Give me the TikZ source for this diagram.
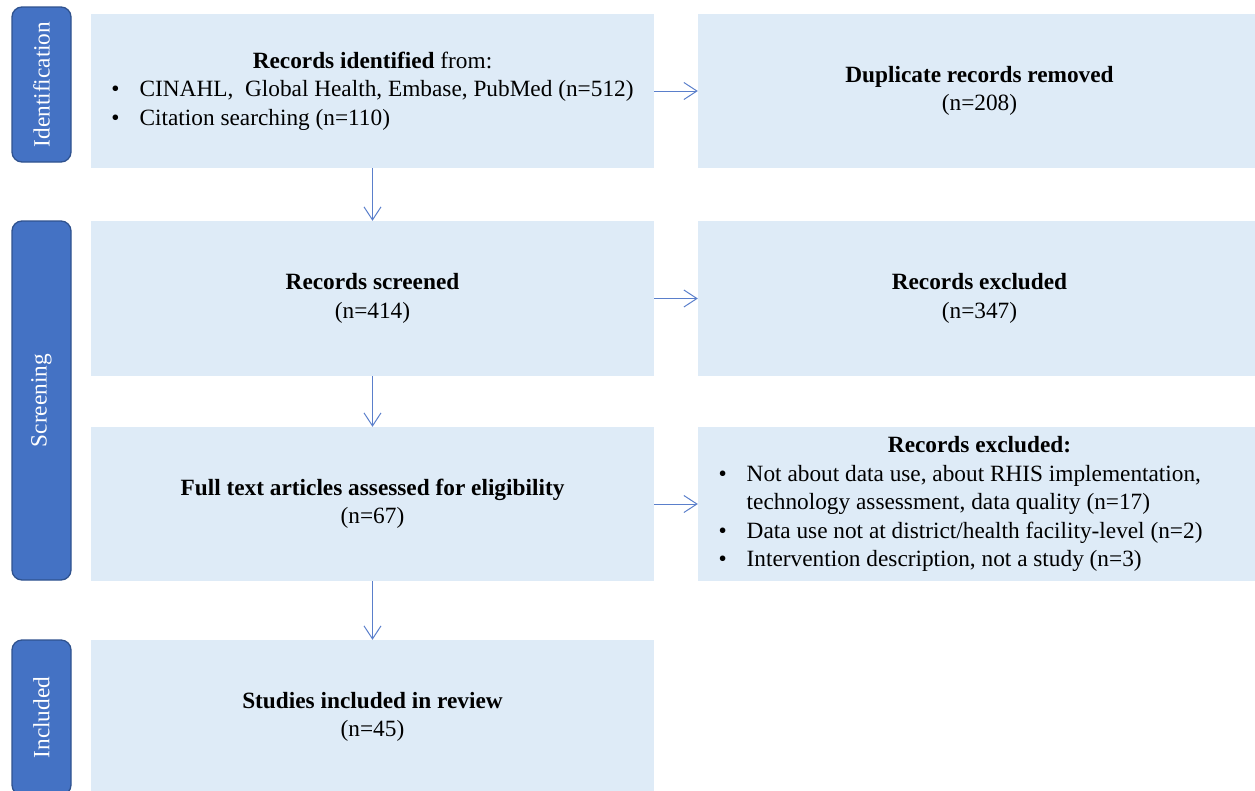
\documentclass[tikz,border=0pt]{standalone}
\usepackage{fontspec}
\setmainfont{Liberation Serif}
\usetikzlibrary{arrows.meta}
\definecolor{sidefill}{HTML}{4472C4}
\definecolor{sideborder}{HTML}{2F528F}
\definecolor{boxfill}{HTML}{DEEBF7}
\definecolor{arrowc}{HTML}{5A7FCB}
\begin{document}
\begin{tikzpicture}[x=1pt,y=-1pt,
  box/.style={fill=boxfill, draw=none, inner sep=0pt, align=center,
    minimum width=563pt, font=\fontsize{23.3}{28.5}\selectfont},
  sidebox/.style={fill=sidefill, draw=sideborder, line width=1.3pt,
    rounded corners=10pt, rotate=90, minimum height=59pt, inner sep=0pt,
    text=white, font=\fontsize{23.3}{28}\selectfont},
  arr/.style={draw=arrowc, line width=1pt, -{Straight Barb[length=13pt,width=17pt,line width=1pt]}}
]
\useasboundingbox (0,0) rectangle (1255,790);
\clip (0,0) rectangle (1255,790);

% side labels
\node[sidebox, minimum width=155pt] (s1) at (41.5,84.5) {Identification};
\node[sidebox, minimum width=359pt] (s2) at (41.5,400.5) {Screening};
\node[sidebox, minimum width=155pt] (s3) at (41.5,717.5) {Included};

% left column
\node[box, minimum height=154pt] (b1) at (372.5,91) {%
  \begin{tabular}{@{}l@{\hspace{20pt}}l@{}}
  \multicolumn{2}{c}{\textbf{Records identified} from:}\\
  \textbullet & CINAHL,\ \ Global Health, Embase, PubMed (n=512)\\
  \textbullet & Citation searching (n=110)
  \end{tabular}};
\node[box, minimum height=155pt] (b2) at (372.5,298.5) {\textbf{Records screened}\\(n=414)};
\node[box, minimum height=154pt] (b3) at (372.5,504) {\textbf{Full text articles assessed for eligibility}\\(n=67)};
\node[box, minimum height=154pt] (b4) at (372.5,717) {\textbf{Studies included in review}\\(n=45)};

% right column
\node[box, minimum height=154pt] (r1) at (979.5,91) {\textbf{Duplicate records removed}\\(n=208)};
\node[box, minimum height=155pt] (r2) at (979.5,298.5) {\textbf{Records excluded}\\(n=347)};
\node[box, minimum height=154pt] (r3) at (979.5,504) {%
  \hbox{\begin{tabular}{@{}l@{\hspace{20pt}}l@{}}
  \multicolumn{2}{c}{\hspace*{38pt}\textbf{Records excluded:}}\\
  \textbullet & Not about data use, about RHIS implementation,\\
   & technology assessment, data quality (n=17)\\
  \textbullet & Data use not at district/health facility-level (n=2)\\
  \textbullet & Intervention description, not a study (n=3)
  \end{tabular}\kern38pt}};

% arrows
\draw[arr] (b1) -- (r1);
\draw[arr] (b2) -- (r2);
\draw[arr] (b3) -- (r3);
\draw[arr] (b1) -- (b2);
\draw[arr] (b2) -- (b3);
\draw[arr] (b3) -- (b4);
\end{tikzpicture}
\end{document}
